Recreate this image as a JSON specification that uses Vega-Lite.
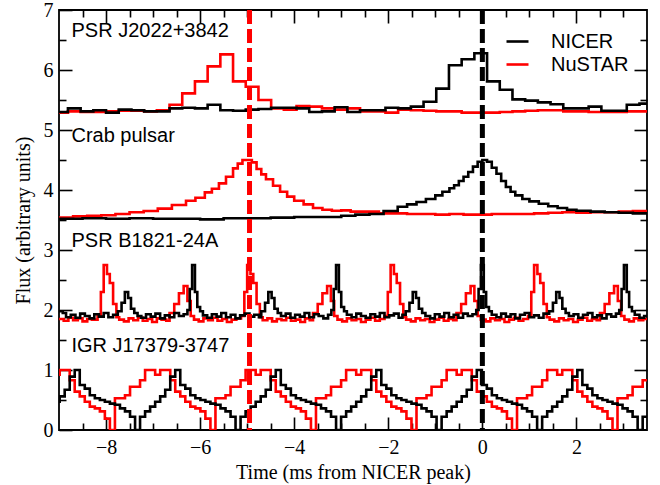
{
"$schema": "https://vega.github.io/schema/vega-lite/v6.json",
"width": 588, "height": 420,
"autosize": {"type": "none"},
"padding": {"left": 59, "top": 10, "right": 13, "bottom": 55},
"background": "white",
"config": {
  "view": {"stroke": "black", "strokeWidth": 1.8},
  "axis": {"domain": false, "grid": false, "tickColor": "black", "tickWidth": 1.6, "labelColor": "black", "labelFont": "Liberation Serif", "labelFontSize": 20, "titleFont": "Liberation Serif", "titleFontSize": 20, "titleFontWeight": "normal", "titleColor": "black", "labelFlush": false}
},
"datasets": {
"vlines": [{"x": -4.95, "c": "#ff0000"}, {"x": 0, "c": "#000000"}],
"labels": [
  {"lx": -8.735, "ly": 6.555, "t": "PSR J2022+3842"},
  {"lx": -8.735, "ly": 4.805, "t": "Crab pulsar"},
  {"lx": -8.735, "ly": 3.045, "t": "PSR B1821-24A"},
  {"lx": -8.735, "ly": 1.305, "t": "IGR J17379-3747"}
],
"curves": [
{"x":-9.08,"y":5.29,"s":"NuSTAR","g":"1r"},{"x":-8.81,"y":5.31,"s":"NuSTAR","g":"1r"},{"x":-8.54,"y":5.30,"s":"NuSTAR","g":"1r"},{"x":-8.27,"y":5.30,"s":"NuSTAR","g":"1r"},{"x":-8.00,"y":5.31,"s":"NuSTAR","g":"1r"},{"x":-7.73,"y":5.32,"s":"NuSTAR","g":"1r"},{"x":-7.46,"y":5.32,"s":"NuSTAR","g":"1r"},{"x":-7.19,"y":5.31,"s":"NuSTAR","g":"1r"},{"x":-6.92,"y":5.33,"s":"NuSTAR","g":"1r"},{"x":-6.65,"y":5.42,"s":"NuSTAR","g":"1r"},{"x":-6.38,"y":5.61,"s":"NuSTAR","g":"1r"},{"x":-6.11,"y":5.81,"s":"NuSTAR","g":"1r"},{"x":-5.84,"y":6.06,"s":"NuSTAR","g":"1r"},{"x":-5.57,"y":6.26,"s":"NuSTAR","g":"1r"},{"x":-5.30,"y":5.81,"s":"NuSTAR","g":"1r"},{"x":-5.03,"y":5.72,"s":"NuSTAR","g":"1r"},{"x":-4.76,"y":5.50,"s":"NuSTAR","g":"1r"},{"x":-4.49,"y":5.36,"s":"NuSTAR","g":"1r"},{"x":-4.22,"y":5.34,"s":"NuSTAR","g":"1r"},{"x":-3.95,"y":5.40,"s":"NuSTAR","g":"1r"},{"x":-3.68,"y":5.39,"s":"NuSTAR","g":"1r"},{"x":-3.41,"y":5.36,"s":"NuSTAR","g":"1r"},{"x":-3.14,"y":5.34,"s":"NuSTAR","g":"1r"},{"x":-2.87,"y":5.36,"s":"NuSTAR","g":"1r"},{"x":-2.60,"y":5.31,"s":"NuSTAR","g":"1r"},{"x":-2.33,"y":5.31,"s":"NuSTAR","g":"1r"},{"x":-2.06,"y":5.29,"s":"NuSTAR","g":"1r"},{"x":-1.79,"y":5.34,"s":"NuSTAR","g":"1r"},{"x":-1.52,"y":5.33,"s":"NuSTAR","g":"1r"},{"x":-1.25,"y":5.32,"s":"NuSTAR","g":"1r"},{"x":-0.98,"y":5.31,"s":"NuSTAR","g":"1r"},{"x":-0.71,"y":5.31,"s":"NuSTAR","g":"1r"},{"x":-0.44,"y":5.29,"s":"NuSTAR","g":"1r"},{"x":-0.17,"y":5.29,"s":"NuSTAR","g":"1r"},{"x":0.10,"y":5.29,"s":"NuSTAR","g":"1r"},{"x":0.37,"y":5.30,"s":"NuSTAR","g":"1r"},{"x":0.64,"y":5.31,"s":"NuSTAR","g":"1r"},{"x":0.91,"y":5.32,"s":"NuSTAR","g":"1r"},{"x":1.18,"y":5.33,"s":"NuSTAR","g":"1r"},{"x":1.45,"y":5.33,"s":"NuSTAR","g":"1r"},{"x":1.72,"y":5.31,"s":"NuSTAR","g":"1r"},{"x":1.99,"y":5.31,"s":"NuSTAR","g":"1r"},{"x":2.26,"y":5.30,"s":"NuSTAR","g":"1r"},{"x":2.53,"y":5.30,"s":"NuSTAR","g":"1r"},{"x":2.80,"y":5.30,"s":"NuSTAR","g":"1r"},{"x":3.07,"y":5.31,"s":"NuSTAR","g":"1r"},{"x":3.34,"y":5.31,"s":"NuSTAR","g":"1r"},{"x":3.61,"y":5.31,"s":"NuSTAR","g":"1r"},
{"x":-9.0,"y":3.54,"s":"NuSTAR","g":"2r"},{"x":-8.7,"y":3.56,"s":"NuSTAR","g":"2r"},{"x":-8.4,"y":3.57,"s":"NuSTAR","g":"2r"},{"x":-8.1,"y":3.58,"s":"NuSTAR","g":"2r"},{"x":-7.8,"y":3.60,"s":"NuSTAR","g":"2r"},{"x":-7.5,"y":3.63,"s":"NuSTAR","g":"2r"},{"x":-7.2,"y":3.65,"s":"NuSTAR","g":"2r"},{"x":-6.9,"y":3.69,"s":"NuSTAR","g":"2r"},{"x":-6.6,"y":3.75,"s":"NuSTAR","g":"2r"},{"x":-6.3,"y":3.82,"s":"NuSTAR","g":"2r"},{"x":-6.1,"y":3.87,"s":"NuSTAR","g":"2r"},{"x":-5.9,"y":3.96,"s":"NuSTAR","g":"2r"},{"x":-5.75,"y":4.02,"s":"NuSTAR","g":"2r"},{"x":-5.6,"y":4.11,"s":"NuSTAR","g":"2r"},{"x":-5.45,"y":4.22,"s":"NuSTAR","g":"2r"},{"x":-5.3,"y":4.36,"s":"NuSTAR","g":"2r"},{"x":-5.2,"y":4.44,"s":"NuSTAR","g":"2r"},{"x":-5.1,"y":4.50,"s":"NuSTAR","g":"2r"},{"x":-5.0,"y":4.50,"s":"NuSTAR","g":"2r"},{"x":-4.9,"y":4.46,"s":"NuSTAR","g":"2r"},{"x":-4.8,"y":4.35,"s":"NuSTAR","g":"2r"},{"x":-4.7,"y":4.26,"s":"NuSTAR","g":"2r"},{"x":-4.6,"y":4.18,"s":"NuSTAR","g":"2r"},{"x":-4.45,"y":4.07,"s":"NuSTAR","g":"2r"},{"x":-4.3,"y":3.97,"s":"NuSTAR","g":"2r"},{"x":-4.15,"y":3.89,"s":"NuSTAR","g":"2r"},{"x":-4.0,"y":3.82,"s":"NuSTAR","g":"2r"},{"x":-3.8,"y":3.76,"s":"NuSTAR","g":"2r"},{"x":-3.6,"y":3.70,"s":"NuSTAR","g":"2r"},{"x":-3.4,"y":3.67,"s":"NuSTAR","g":"2r"},{"x":-3.2,"y":3.655,"s":"NuSTAR","g":"2r"},{"x":-3.0,"y":3.66,"s":"NuSTAR","g":"2r"},{"x":-2.8,"y":3.64,"s":"NuSTAR","g":"2r"},{"x":-2.5,"y":3.64,"s":"NuSTAR","g":"2r"},{"x":-2.2,"y":3.61,"s":"NuSTAR","g":"2r"},{"x":-1.9,"y":3.61,"s":"NuSTAR","g":"2r"},{"x":-1.6,"y":3.60,"s":"NuSTAR","g":"2r"},{"x":-1.3,"y":3.60,"s":"NuSTAR","g":"2r"},{"x":-1.0,"y":3.59,"s":"NuSTAR","g":"2r"},{"x":-0.7,"y":3.60,"s":"NuSTAR","g":"2r"},{"x":-0.4,"y":3.59,"s":"NuSTAR","g":"2r"},{"x":-0.1,"y":3.59,"s":"NuSTAR","g":"2r"},{"x":0.2,"y":3.60,"s":"NuSTAR","g":"2r"},{"x":0.5,"y":3.60,"s":"NuSTAR","g":"2r"},{"x":0.8,"y":3.60,"s":"NuSTAR","g":"2r"},{"x":1.1,"y":3.61,"s":"NuSTAR","g":"2r"},{"x":1.4,"y":3.62,"s":"NuSTAR","g":"2r"},{"x":1.7,"y":3.63,"s":"NuSTAR","g":"2r"},{"x":2.0,"y":3.62,"s":"NuSTAR","g":"2r"},{"x":2.3,"y":3.63,"s":"NuSTAR","g":"2r"},{"x":2.6,"y":3.63,"s":"NuSTAR","g":"2r"},{"x":2.9,"y":3.64,"s":"NuSTAR","g":"2r"},{"x":3.2,"y":3.65,"s":"NuSTAR","g":"2r"},{"x":3.5,"y":3.66,"s":"NuSTAR","g":"2r"},
{"x":-9.00,"y":1.85,"s":"NuSTAR","g":"3r"},{"x":-8.90,"y":1.82,"s":"NuSTAR","g":"3r"},{"x":-8.80,"y":1.87,"s":"NuSTAR","g":"3r"},{"x":-8.70,"y":1.83,"s":"NuSTAR","g":"3r"},{"x":-8.60,"y":1.86,"s":"NuSTAR","g":"3r"},{"x":-8.50,"y":1.81,"s":"NuSTAR","g":"3r"},{"x":-8.40,"y":1.85,"s":"NuSTAR","g":"3r"},{"x":-8.30,"y":1.84,"s":"NuSTAR","g":"3r"},{"x":-8.18,"y":1.90,"s":"NuSTAR","g":"3r"},{"x":-8.11,"y":2.30,"s":"NuSTAR","g":"3r"},{"x":-8.05,"y":2.75,"s":"NuSTAR","g":"3r"},{"x":-7.98,"y":2.60,"s":"NuSTAR","g":"3r"},{"x":-7.92,"y":2.45,"s":"NuSTAR","g":"3r"},{"x":-7.85,"y":2.10,"s":"NuSTAR","g":"3r"},{"x":-7.78,"y":1.88,"s":"NuSTAR","g":"3r"},{"x":-7.72,"y":1.84,"s":"NuSTAR","g":"3r"},{"x":-7.62,"y":1.81,"s":"NuSTAR","g":"3r"},{"x":-7.52,"y":1.86,"s":"NuSTAR","g":"3r"},{"x":-7.42,"y":1.83,"s":"NuSTAR","g":"3r"},{"x":-7.32,"y":1.87,"s":"NuSTAR","g":"3r"},{"x":-7.22,"y":1.82,"s":"NuSTAR","g":"3r"},{"x":-7.12,"y":1.85,"s":"NuSTAR","g":"3r"},{"x":-7.02,"y":1.80,"s":"NuSTAR","g":"3r"},{"x":-6.92,"y":1.86,"s":"NuSTAR","g":"3r"},{"x":-6.82,"y":1.84,"s":"NuSTAR","g":"3r"},{"x":-6.72,"y":1.82,"s":"NuSTAR","g":"3r"},{"x":-6.65,"y":1.95,"s":"NuSTAR","g":"3r"},{"x":-6.55,"y":2.10,"s":"NuSTAR","g":"3r"},{"x":-6.45,"y":2.28,"s":"NuSTAR","g":"3r"},{"x":-6.35,"y":2.40,"s":"NuSTAR","g":"3r"},{"x":-6.27,"y":2.15,"s":"NuSTAR","g":"3r"},{"x":-6.20,"y":1.90,"s":"NuSTAR","g":"3r"},{"x":-6.13,"y":1.84,"s":"NuSTAR","g":"3r"},{"x":-6.03,"y":1.81,"s":"NuSTAR","g":"3r"},{"x":-5.93,"y":1.86,"s":"NuSTAR","g":"3r"},{"x":-5.83,"y":1.83,"s":"NuSTAR","g":"3r"},{"x":-5.73,"y":1.87,"s":"NuSTAR","g":"3r"},{"x":-5.63,"y":1.82,"s":"NuSTAR","g":"3r"},{"x":-5.53,"y":1.85,"s":"NuSTAR","g":"3r"},{"x":-5.43,"y":1.80,"s":"NuSTAR","g":"3r"},{"x":-5.33,"y":1.84,"s":"NuSTAR","g":"3r"},{"x":-5.23,"y":1.86,"s":"NuSTAR","g":"3r"},{"x":-5.13,"y":1.90,"s":"NuSTAR","g":"3r"},{"x":-5.06,"y":2.30,"s":"NuSTAR","g":"3r"},{"x":-5.00,"y":2.75,"s":"NuSTAR","g":"3r"},{"x":-4.93,"y":2.60,"s":"NuSTAR","g":"3r"},{"x":-4.87,"y":2.45,"s":"NuSTAR","g":"3r"},{"x":-4.80,"y":2.10,"s":"NuSTAR","g":"3r"},{"x":-4.73,"y":1.88,"s":"NuSTAR","g":"3r"},{"x":-4.67,"y":1.83,"s":"NuSTAR","g":"3r"},{"x":-4.57,"y":1.86,"s":"NuSTAR","g":"3r"},{"x":-4.47,"y":1.81,"s":"NuSTAR","g":"3r"},{"x":-4.37,"y":1.85,"s":"NuSTAR","g":"3r"},{"x":-4.27,"y":1.83,"s":"NuSTAR","g":"3r"},{"x":-4.17,"y":1.87,"s":"NuSTAR","g":"3r"},{"x":-4.07,"y":1.82,"s":"NuSTAR","g":"3r"},{"x":-3.97,"y":1.84,"s":"NuSTAR","g":"3r"},{"x":-3.87,"y":1.80,"s":"NuSTAR","g":"3r"},{"x":-3.77,"y":1.86,"s":"NuSTAR","g":"3r"},{"x":-3.67,"y":1.83,"s":"NuSTAR","g":"3r"},{"x":-3.60,"y":1.95,"s":"NuSTAR","g":"3r"},{"x":-3.50,"y":2.10,"s":"NuSTAR","g":"3r"},{"x":-3.40,"y":2.28,"s":"NuSTAR","g":"3r"},{"x":-3.30,"y":2.40,"s":"NuSTAR","g":"3r"},{"x":-3.22,"y":2.15,"s":"NuSTAR","g":"3r"},{"x":-3.15,"y":1.90,"s":"NuSTAR","g":"3r"},{"x":-3.08,"y":1.84,"s":"NuSTAR","g":"3r"},{"x":-2.98,"y":1.81,"s":"NuSTAR","g":"3r"},{"x":-2.88,"y":1.86,"s":"NuSTAR","g":"3r"},{"x":-2.78,"y":1.83,"s":"NuSTAR","g":"3r"},{"x":-2.68,"y":1.85,"s":"NuSTAR","g":"3r"},{"x":-2.58,"y":1.80,"s":"NuSTAR","g":"3r"},{"x":-2.48,"y":1.84,"s":"NuSTAR","g":"3r"},{"x":-2.38,"y":1.87,"s":"NuSTAR","g":"3r"},{"x":-2.28,"y":1.82,"s":"NuSTAR","g":"3r"},{"x":-2.18,"y":1.85,"s":"NuSTAR","g":"3r"},{"x":-2.08,"y":1.90,"s":"NuSTAR","g":"3r"},{"x":-2.01,"y":2.30,"s":"NuSTAR","g":"3r"},{"x":-1.95,"y":2.75,"s":"NuSTAR","g":"3r"},{"x":-1.88,"y":2.60,"s":"NuSTAR","g":"3r"},{"x":-1.82,"y":2.45,"s":"NuSTAR","g":"3r"},{"x":-1.75,"y":2.10,"s":"NuSTAR","g":"3r"},{"x":-1.68,"y":1.88,"s":"NuSTAR","g":"3r"},{"x":-1.62,"y":1.84,"s":"NuSTAR","g":"3r"},{"x":-1.52,"y":1.81,"s":"NuSTAR","g":"3r"},{"x":-1.42,"y":1.86,"s":"NuSTAR","g":"3r"},{"x":-1.32,"y":1.83,"s":"NuSTAR","g":"3r"},{"x":-1.22,"y":1.85,"s":"NuSTAR","g":"3r"},{"x":-1.12,"y":1.80,"s":"NuSTAR","g":"3r"},{"x":-1.02,"y":1.84,"s":"NuSTAR","g":"3r"},{"x":-0.92,"y":1.87,"s":"NuSTAR","g":"3r"},{"x":-0.82,"y":1.82,"s":"NuSTAR","g":"3r"},{"x":-0.72,"y":1.85,"s":"NuSTAR","g":"3r"},{"x":-0.62,"y":1.83,"s":"NuSTAR","g":"3r"},{"x":-0.55,"y":1.95,"s":"NuSTAR","g":"3r"},{"x":-0.45,"y":2.10,"s":"NuSTAR","g":"3r"},{"x":-0.35,"y":2.28,"s":"NuSTAR","g":"3r"},{"x":-0.25,"y":2.40,"s":"NuSTAR","g":"3r"},{"x":-0.17,"y":2.15,"s":"NuSTAR","g":"3r"},{"x":-0.10,"y":1.90,"s":"NuSTAR","g":"3r"},{"x":-0.03,"y":1.84,"s":"NuSTAR","g":"3r"},{"x":0.07,"y":1.81,"s":"NuSTAR","g":"3r"},{"x":0.17,"y":1.86,"s":"NuSTAR","g":"3r"},{"x":0.27,"y":1.83,"s":"NuSTAR","g":"3r"},{"x":0.37,"y":1.85,"s":"NuSTAR","g":"3r"},{"x":0.47,"y":1.80,"s":"NuSTAR","g":"3r"},{"x":0.57,"y":1.84,"s":"NuSTAR","g":"3r"},{"x":0.67,"y":1.87,"s":"NuSTAR","g":"3r"},{"x":0.77,"y":1.82,"s":"NuSTAR","g":"3r"},{"x":0.87,"y":1.85,"s":"NuSTAR","g":"3r"},{"x":0.97,"y":1.90,"s":"NuSTAR","g":"3r"},{"x":1.04,"y":2.30,"s":"NuSTAR","g":"3r"},{"x":1.10,"y":2.75,"s":"NuSTAR","g":"3r"},{"x":1.17,"y":2.60,"s":"NuSTAR","g":"3r"},{"x":1.23,"y":2.45,"s":"NuSTAR","g":"3r"},{"x":1.30,"y":2.10,"s":"NuSTAR","g":"3r"},{"x":1.37,"y":1.88,"s":"NuSTAR","g":"3r"},{"x":1.43,"y":1.84,"s":"NuSTAR","g":"3r"},{"x":1.53,"y":1.81,"s":"NuSTAR","g":"3r"},{"x":1.63,"y":1.86,"s":"NuSTAR","g":"3r"},{"x":1.73,"y":1.83,"s":"NuSTAR","g":"3r"},{"x":1.83,"y":1.85,"s":"NuSTAR","g":"3r"},{"x":1.93,"y":1.80,"s":"NuSTAR","g":"3r"},{"x":2.03,"y":1.84,"s":"NuSTAR","g":"3r"},{"x":2.13,"y":1.87,"s":"NuSTAR","g":"3r"},{"x":2.23,"y":1.82,"s":"NuSTAR","g":"3r"},{"x":2.33,"y":1.85,"s":"NuSTAR","g":"3r"},{"x":2.43,"y":1.83,"s":"NuSTAR","g":"3r"},{"x":2.50,"y":1.95,"s":"NuSTAR","g":"3r"},{"x":2.60,"y":2.10,"s":"NuSTAR","g":"3r"},{"x":2.70,"y":2.28,"s":"NuSTAR","g":"3r"},{"x":2.80,"y":2.40,"s":"NuSTAR","g":"3r"},{"x":2.88,"y":2.15,"s":"NuSTAR","g":"3r"},{"x":2.95,"y":1.90,"s":"NuSTAR","g":"3r"},{"x":3.02,"y":1.84,"s":"NuSTAR","g":"3r"},{"x":3.12,"y":1.81,"s":"NuSTAR","g":"3r"},{"x":3.22,"y":1.86,"s":"NuSTAR","g":"3r"},{"x":3.32,"y":1.83,"s":"NuSTAR","g":"3r"},{"x":3.42,"y":1.85,"s":"NuSTAR","g":"3r"},{"x":3.50,"y":1.85,"s":"NuSTAR","g":"3r"},
{"x":-9.093,"y":0.92,"s":"NuSTAR","g":"4r"},{"x":-8.986,"y":1.0,"s":"NuSTAR","g":"4r"},{"x":-8.879,"y":1.0,"s":"NuSTAR","g":"4r"},{"x":-8.772,"y":0.83,"s":"NuSTAR","g":"4r"},{"x":-8.666,"y":0.64,"s":"NuSTAR","g":"4r"},{"x":-8.559,"y":0.56,"s":"NuSTAR","g":"4r"},{"x":-8.452,"y":0.47,"s":"NuSTAR","g":"4r"},{"x":-8.345,"y":0.39,"s":"NuSTAR","g":"4r"},{"x":-8.238,"y":0.36,"s":"NuSTAR","g":"4r"},{"x":-8.131,"y":0.31,"s":"NuSTAR","g":"4r"},{"x":-8.025,"y":0.19,"s":"NuSTAR","g":"4r"},
{"x":-7.918,"y":0,"s":"NuSTAR","g":"4r"},{"x":-7.811,"y":0.53,"s":"NuSTAR","g":"4r"},{"x":-7.704,"y":0.53,"s":"NuSTAR","g":"4r"},{"x":-7.597,"y":0.58,"s":"NuSTAR","g":"4r"},{"x":-7.490,"y":0.72,"s":"NuSTAR","g":"4r"},{"x":-7.383,"y":0.72,"s":"NuSTAR","g":"4r"},{"x":-7.277,"y":0.83,"s":"NuSTAR","g":"4r"},{"x":-7.170,"y":1.0,"s":"NuSTAR","g":"4r"},{"x":-7.063,"y":1.0,"s":"NuSTAR","g":"4r"},{"x":-6.956,"y":0.92,"s":"NuSTAR","g":"4r"},{"x":-6.849,"y":1.0,"s":"NuSTAR","g":"4r"},{"x":-6.742,"y":1.0,"s":"NuSTAR","g":"4r"},{"x":-6.635,"y":0.83,"s":"NuSTAR","g":"4r"},{"x":-6.529,"y":0.64,"s":"NuSTAR","g":"4r"},{"x":-6.422,"y":0.56,"s":"NuSTAR","g":"4r"},{"x":-6.315,"y":0.47,"s":"NuSTAR","g":"4r"},{"x":-6.208,"y":0.39,"s":"NuSTAR","g":"4r"},{"x":-6.101,"y":0.36,"s":"NuSTAR","g":"4r"},{"x":-5.994,"y":0.31,"s":"NuSTAR","g":"4r"},{"x":-5.888,"y":0.19,"s":"NuSTAR","g":"4r"},
{"x":-5.781,"y":0,"s":"NuSTAR","g":"4r"},{"x":-5.674,"y":0.53,"s":"NuSTAR","g":"4r"},{"x":-5.567,"y":0.53,"s":"NuSTAR","g":"4r"},{"x":-5.460,"y":0.58,"s":"NuSTAR","g":"4r"},{"x":-5.353,"y":0.72,"s":"NuSTAR","g":"4r"},{"x":-5.247,"y":0.72,"s":"NuSTAR","g":"4r"},{"x":-5.140,"y":0.83,"s":"NuSTAR","g":"4r"},{"x":-5.033,"y":1.0,"s":"NuSTAR","g":"4r"},{"x":-4.926,"y":1.0,"s":"NuSTAR","g":"4r"},{"x":-4.819,"y":0.92,"s":"NuSTAR","g":"4r"},{"x":-4.712,"y":1.0,"s":"NuSTAR","g":"4r"},{"x":-4.605,"y":1.0,"s":"NuSTAR","g":"4r"},{"x":-4.499,"y":0.83,"s":"NuSTAR","g":"4r"},{"x":-4.392,"y":0.64,"s":"NuSTAR","g":"4r"},{"x":-4.285,"y":0.56,"s":"NuSTAR","g":"4r"},{"x":-4.178,"y":0.47,"s":"NuSTAR","g":"4r"},{"x":-4.071,"y":0.39,"s":"NuSTAR","g":"4r"},{"x":-3.964,"y":0.36,"s":"NuSTAR","g":"4r"},{"x":-3.858,"y":0.31,"s":"NuSTAR","g":"4r"},{"x":-3.751,"y":0.19,"s":"NuSTAR","g":"4r"},
{"x":-3.644,"y":0,"s":"NuSTAR","g":"4r"},{"x":-3.537,"y":0.53,"s":"NuSTAR","g":"4r"},{"x":-3.430,"y":0.53,"s":"NuSTAR","g":"4r"},{"x":-3.323,"y":0.58,"s":"NuSTAR","g":"4r"},{"x":-3.217,"y":0.72,"s":"NuSTAR","g":"4r"},{"x":-3.110,"y":0.72,"s":"NuSTAR","g":"4r"},{"x":-3.003,"y":0.83,"s":"NuSTAR","g":"4r"},{"x":-2.896,"y":1.0,"s":"NuSTAR","g":"4r"},{"x":-2.789,"y":1.0,"s":"NuSTAR","g":"4r"},{"x":-2.682,"y":0.92,"s":"NuSTAR","g":"4r"},{"x":-2.576,"y":1.0,"s":"NuSTAR","g":"4r"},{"x":-2.469,"y":1.0,"s":"NuSTAR","g":"4r"},{"x":-2.362,"y":0.83,"s":"NuSTAR","g":"4r"},{"x":-2.255,"y":0.64,"s":"NuSTAR","g":"4r"},{"x":-2.148,"y":0.56,"s":"NuSTAR","g":"4r"},{"x":-2.041,"y":0.47,"s":"NuSTAR","g":"4r"},{"x":-1.935,"y":0.39,"s":"NuSTAR","g":"4r"},{"x":-1.828,"y":0.36,"s":"NuSTAR","g":"4r"},{"x":-1.721,"y":0.31,"s":"NuSTAR","g":"4r"},{"x":-1.614,"y":0.19,"s":"NuSTAR","g":"4r"},
{"x":-1.507,"y":0,"s":"NuSTAR","g":"4r"},{"x":-1.400,"y":0.53,"s":"NuSTAR","g":"4r"},{"x":-1.294,"y":0.53,"s":"NuSTAR","g":"4r"},{"x":-1.187,"y":0.58,"s":"NuSTAR","g":"4r"},{"x":-1.080,"y":0.72,"s":"NuSTAR","g":"4r"},{"x":-0.973,"y":0.72,"s":"NuSTAR","g":"4r"},{"x":-0.866,"y":0.83,"s":"NuSTAR","g":"4r"},{"x":-0.759,"y":1.0,"s":"NuSTAR","g":"4r"},{"x":-0.653,"y":1.0,"s":"NuSTAR","g":"4r"},{"x":-0.546,"y":0.92,"s":"NuSTAR","g":"4r"},{"x":-0.439,"y":1.0,"s":"NuSTAR","g":"4r"},{"x":-0.332,"y":1.0,"s":"NuSTAR","g":"4r"},{"x":-0.225,"y":0.83,"s":"NuSTAR","g":"4r"},{"x":-0.118,"y":0.64,"s":"NuSTAR","g":"4r"},{"x":-0.011,"y":0.56,"s":"NuSTAR","g":"4r"},{"x":0.095,"y":0.47,"s":"NuSTAR","g":"4r"},{"x":0.202,"y":0.39,"s":"NuSTAR","g":"4r"},{"x":0.309,"y":0.36,"s":"NuSTAR","g":"4r"},{"x":0.416,"y":0.31,"s":"NuSTAR","g":"4r"},{"x":0.523,"y":0.19,"s":"NuSTAR","g":"4r"},
{"x":0.630,"y":0,"s":"NuSTAR","g":"4r"},{"x":0.737,"y":0.53,"s":"NuSTAR","g":"4r"},{"x":0.843,"y":0.53,"s":"NuSTAR","g":"4r"},{"x":0.950,"y":0.58,"s":"NuSTAR","g":"4r"},{"x":1.057,"y":0.72,"s":"NuSTAR","g":"4r"},{"x":1.164,"y":0.72,"s":"NuSTAR","g":"4r"},{"x":1.271,"y":0.83,"s":"NuSTAR","g":"4r"},{"x":1.378,"y":1.0,"s":"NuSTAR","g":"4r"},{"x":1.484,"y":1.0,"s":"NuSTAR","g":"4r"},{"x":1.591,"y":0.92,"s":"NuSTAR","g":"4r"},{"x":1.698,"y":1.0,"s":"NuSTAR","g":"4r"},{"x":1.805,"y":1.0,"s":"NuSTAR","g":"4r"},{"x":1.912,"y":0.83,"s":"NuSTAR","g":"4r"},{"x":2.019,"y":0.64,"s":"NuSTAR","g":"4r"},{"x":2.126,"y":0.56,"s":"NuSTAR","g":"4r"},{"x":2.232,"y":0.47,"s":"NuSTAR","g":"4r"},{"x":2.339,"y":0.39,"s":"NuSTAR","g":"4r"},{"x":2.446,"y":0.36,"s":"NuSTAR","g":"4r"},{"x":2.553,"y":0.31,"s":"NuSTAR","g":"4r"},{"x":2.660,"y":0.19,"s":"NuSTAR","g":"4r"},
{"x":2.767,"y":0,"s":"NuSTAR","g":"4r"},{"x":2.873,"y":0.53,"s":"NuSTAR","g":"4r"},{"x":2.980,"y":0.53,"s":"NuSTAR","g":"4r"},{"x":3.087,"y":0.58,"s":"NuSTAR","g":"4r"},{"x":3.194,"y":0.72,"s":"NuSTAR","g":"4r"},{"x":3.301,"y":0.72,"s":"NuSTAR","g":"4r"},{"x":3.408,"y":0.83,"s":"NuSTAR","g":"4r"},{"x":3.515,"y":0.83,"s":"NuSTAR","g":"4r"},
{"x":-9.08,"y":5.30,"s":"NICER","g":"1b"},{"x":-8.81,"y":5.36,"s":"NICER","g":"1b"},{"x":-8.54,"y":5.31,"s":"NICER","g":"1b"},{"x":-8.27,"y":5.33,"s":"NICER","g":"1b"},{"x":-8.00,"y":5.29,"s":"NICER","g":"1b"},{"x":-7.73,"y":5.34,"s":"NICER","g":"1b"},{"x":-7.46,"y":5.33,"s":"NICER","g":"1b"},{"x":-7.19,"y":5.31,"s":"NICER","g":"1b"},{"x":-6.92,"y":5.31,"s":"NICER","g":"1b"},{"x":-6.65,"y":5.36,"s":"NICER","g":"1b"},{"x":-6.38,"y":5.37,"s":"NICER","g":"1b"},{"x":-6.11,"y":5.36,"s":"NICER","g":"1b"},{"x":-5.84,"y":5.42,"s":"NICER","g":"1b"},{"x":-5.57,"y":5.33,"s":"NICER","g":"1b"},{"x":-5.30,"y":5.32,"s":"NICER","g":"1b"},{"x":-5.03,"y":5.34,"s":"NICER","g":"1b"},{"x":-4.76,"y":5.35,"s":"NICER","g":"1b"},{"x":-4.49,"y":5.37,"s":"NICER","g":"1b"},{"x":-4.22,"y":5.37,"s":"NICER","g":"1b"},{"x":-3.95,"y":5.36,"s":"NICER","g":"1b"},{"x":-3.68,"y":5.30,"s":"NICER","g":"1b"},{"x":-3.41,"y":5.31,"s":"NICER","g":"1b"},{"x":-3.14,"y":5.38,"s":"NICER","g":"1b"},{"x":-2.87,"y":5.30,"s":"NICER","g":"1b"},{"x":-2.60,"y":5.33,"s":"NICER","g":"1b"},{"x":-2.33,"y":5.33,"s":"NICER","g":"1b"},{"x":-2.06,"y":5.37,"s":"NICER","g":"1b"},{"x":-1.79,"y":5.36,"s":"NICER","g":"1b"},{"x":-1.52,"y":5.39,"s":"NICER","g":"1b"},{"x":-1.25,"y":5.47,"s":"NICER","g":"1b"},{"x":-0.98,"y":5.69,"s":"NICER","g":"1b"},{"x":-0.71,"y":6.08,"s":"NICER","g":"1b"},{"x":-0.44,"y":6.18,"s":"NICER","g":"1b"},{"x":-0.17,"y":6.28,"s":"NICER","g":"1b"},{"x":0.10,"y":5.81,"s":"NICER","g":"1b"},{"x":0.37,"y":5.67,"s":"NICER","g":"1b"},{"x":0.64,"y":5.51,"s":"NICER","g":"1b"},{"x":0.91,"y":5.49,"s":"NICER","g":"1b"},{"x":1.18,"y":5.46,"s":"NICER","g":"1b"},{"x":1.45,"y":5.43,"s":"NICER","g":"1b"},{"x":1.72,"y":5.36,"s":"NICER","g":"1b"},{"x":1.99,"y":5.36,"s":"NICER","g":"1b"},{"x":2.26,"y":5.39,"s":"NICER","g":"1b"},{"x":2.53,"y":5.32,"s":"NICER","g":"1b"},{"x":2.80,"y":5.32,"s":"NICER","g":"1b"},{"x":3.07,"y":5.42,"s":"NICER","g":"1b"},{"x":3.34,"y":5.44,"s":"NICER","g":"1b"},{"x":3.61,"y":5.44,"s":"NICER","g":"1b"},
{"x":-9.0,"y":3.52,"s":"NICER","g":"2b"},{"x":-8.5,"y":3.53,"s":"NICER","g":"2b"},{"x":-8.0,"y":3.52,"s":"NICER","g":"2b"},{"x":-7.5,"y":3.53,"s":"NICER","g":"2b"},{"x":-7.0,"y":3.52,"s":"NICER","g":"2b"},{"x":-6.5,"y":3.52,"s":"NICER","g":"2b"},{"x":-6.0,"y":3.51,"s":"NICER","g":"2b"},{"x":-5.5,"y":3.53,"s":"NICER","g":"2b"},{"x":-5.0,"y":3.53,"s":"NICER","g":"2b"},{"x":-4.5,"y":3.54,"s":"NICER","g":"2b"},{"x":-4.0,"y":3.55,"s":"NICER","g":"2b"},{"x":-3.5,"y":3.55,"s":"NICER","g":"2b"},{"x":-3.0,"y":3.57,"s":"NICER","g":"2b"},{"x":-2.7,"y":3.59,"s":"NICER","g":"2b"},{"x":-2.4,"y":3.60,"s":"NICER","g":"2b"},{"x":-2.1,"y":3.65,"s":"NICER","g":"2b"},{"x":-1.8,"y":3.72,"s":"NICER","g":"2b"},{"x":-1.6,"y":3.76,"s":"NICER","g":"2b"},{"x":-1.4,"y":3.80,"s":"NICER","g":"2b"},{"x":-1.2,"y":3.85,"s":"NICER","g":"2b"},{"x":-1.0,"y":3.91,"s":"NICER","g":"2b"},{"x":-0.85,"y":3.97,"s":"NICER","g":"2b"},{"x":-0.7,"y":4.03,"s":"NICER","g":"2b"},{"x":-0.6,"y":4.08,"s":"NICER","g":"2b"},{"x":-0.5,"y":4.15,"s":"NICER","g":"2b"},{"x":-0.4,"y":4.22,"s":"NICER","g":"2b"},{"x":-0.3,"y":4.30,"s":"NICER","g":"2b"},{"x":-0.2,"y":4.39,"s":"NICER","g":"2b"},{"x":-0.1,"y":4.47,"s":"NICER","g":"2b"},{"x":0.0,"y":4.50,"s":"NICER","g":"2b"},{"x":0.1,"y":4.47,"s":"NICER","g":"2b"},{"x":0.2,"y":4.37,"s":"NICER","g":"2b"},{"x":0.3,"y":4.27,"s":"NICER","g":"2b"},{"x":0.4,"y":4.15,"s":"NICER","g":"2b"},{"x":0.5,"y":4.05,"s":"NICER","g":"2b"},{"x":0.6,"y":3.97,"s":"NICER","g":"2b"},{"x":0.7,"y":3.91,"s":"NICER","g":"2b"},{"x":0.85,"y":3.85,"s":"NICER","g":"2b"},{"x":1.0,"y":3.81,"s":"NICER","g":"2b"},{"x":1.2,"y":3.77,"s":"NICER","g":"2b"},{"x":1.4,"y":3.73,"s":"NICER","g":"2b"},{"x":1.6,"y":3.70,"s":"NICER","g":"2b"},{"x":1.8,"y":3.67,"s":"NICER","g":"2b"},{"x":2.0,"y":3.655,"s":"NICER","g":"2b"},{"x":2.3,"y":3.64,"s":"NICER","g":"2b"},{"x":2.6,"y":3.63,"s":"NICER","g":"2b"},{"x":2.9,"y":3.62,"s":"NICER","g":"2b"},{"x":3.2,"y":3.61,"s":"NICER","g":"2b"},{"x":3.5,"y":3.60,"s":"NICER","g":"2b"},
{"x":-9.00,"y":1.98,"s":"NICER","g":"3b"},{"x":-8.92,"y":1.95,"s":"NICER","g":"3b"},{"x":-8.85,"y":1.88,"s":"NICER","g":"3b"},{"x":-8.75,"y":1.92,"s":"NICER","g":"3b"},{"x":-8.65,"y":1.87,"s":"NICER","g":"3b"},{"x":-8.55,"y":1.94,"s":"NICER","g":"3b"},{"x":-8.45,"y":1.90,"s":"NICER","g":"3b"},{"x":-8.35,"y":1.86,"s":"NICER","g":"3b"},{"x":-8.25,"y":1.93,"s":"NICER","g":"3b"},{"x":-8.15,"y":1.89,"s":"NICER","g":"3b"},{"x":-8.05,"y":1.95,"s":"NICER","g":"3b"},{"x":-7.95,"y":1.88,"s":"NICER","g":"3b"},{"x":-7.85,"y":1.92,"s":"NICER","g":"3b"},{"x":-7.75,"y":1.98,"s":"NICER","g":"3b"},{"x":-7.67,"y":2.12,"s":"NICER","g":"3b"},{"x":-7.60,"y":2.30,"s":"NICER","g":"3b"},{"x":-7.53,"y":2.20,"s":"NICER","g":"3b"},{"x":-7.47,"y":2.02,"s":"NICER","g":"3b"},{"x":-7.40,"y":1.95,"s":"NICER","g":"3b"},{"x":-7.33,"y":1.90,"s":"NICER","g":"3b"},{"x":-7.25,"y":1.87,"s":"NICER","g":"3b"},{"x":-7.15,"y":1.93,"s":"NICER","g":"3b"},{"x":-7.05,"y":1.89,"s":"NICER","g":"3b"},{"x":-6.95,"y":1.94,"s":"NICER","g":"3b"},{"x":-6.85,"y":1.86,"s":"NICER","g":"3b"},{"x":-6.75,"y":1.91,"s":"NICER","g":"3b"},{"x":-6.65,"y":1.88,"s":"NICER","g":"3b"},{"x":-6.55,"y":1.95,"s":"NICER","g":"3b"},{"x":-6.45,"y":1.90,"s":"NICER","g":"3b"},{"x":-6.35,"y":1.93,"s":"NICER","g":"3b"},{"x":-6.27,"y":2.00,"s":"NICER","g":"3b"},{"x":-6.22,"y":2.35,"s":"NICER","g":"3b"},{"x":-6.17,"y":2.75,"s":"NICER","g":"3b"},{"x":-6.11,"y":2.30,"s":"NICER","g":"3b"},{"x":-6.06,"y":2.05,"s":"NICER","g":"3b"},{"x":-6.00,"y":1.98,"s":"NICER","g":"3b"},{"x":-5.94,"y":1.91,"s":"NICER","g":"3b"},{"x":-5.85,"y":1.87,"s":"NICER","g":"3b"},{"x":-5.75,"y":1.93,"s":"NICER","g":"3b"},{"x":-5.65,"y":1.89,"s":"NICER","g":"3b"},{"x":-5.55,"y":1.95,"s":"NICER","g":"3b"},{"x":-5.45,"y":1.88,"s":"NICER","g":"3b"},{"x":-5.35,"y":1.92,"s":"NICER","g":"3b"},{"x":-5.25,"y":1.86,"s":"NICER","g":"3b"},{"x":-5.15,"y":1.91,"s":"NICER","g":"3b"},{"x":-5.05,"y":1.94,"s":"NICER","g":"3b"},{"x":-4.95,"y":1.89,"s":"NICER","g":"3b"},{"x":-4.85,"y":1.92,"s":"NICER","g":"3b"},{"x":-4.75,"y":1.88,"s":"NICER","g":"3b"},{"x":-4.70,"y":1.98,"s":"NICER","g":"3b"},{"x":-4.62,"y":2.12,"s":"NICER","g":"3b"},{"x":-4.55,"y":2.30,"s":"NICER","g":"3b"},{"x":-4.48,"y":2.20,"s":"NICER","g":"3b"},{"x":-4.42,"y":2.02,"s":"NICER","g":"3b"},{"x":-4.35,"y":1.95,"s":"NICER","g":"3b"},{"x":-4.28,"y":1.90,"s":"NICER","g":"3b"},{"x":-4.18,"y":1.94,"s":"NICER","g":"3b"},{"x":-4.08,"y":1.87,"s":"NICER","g":"3b"},{"x":-3.98,"y":1.92,"s":"NICER","g":"3b"},{"x":-3.88,"y":1.89,"s":"NICER","g":"3b"},{"x":-3.78,"y":1.95,"s":"NICER","g":"3b"},{"x":-3.68,"y":1.88,"s":"NICER","g":"3b"},{"x":-3.58,"y":1.93,"s":"NICER","g":"3b"},{"x":-3.48,"y":1.90,"s":"NICER","g":"3b"},{"x":-3.38,"y":1.86,"s":"NICER","g":"3b"},{"x":-3.28,"y":1.92,"s":"NICER","g":"3b"},{"x":-3.21,"y":2.00,"s":"NICER","g":"3b"},{"x":-3.16,"y":2.35,"s":"NICER","g":"3b"},{"x":-3.11,"y":2.75,"s":"NICER","g":"3b"},{"x":-3.05,"y":2.30,"s":"NICER","g":"3b"},{"x":-3.00,"y":2.05,"s":"NICER","g":"3b"},{"x":-2.94,"y":1.98,"s":"NICER","g":"3b"},{"x":-2.88,"y":1.92,"s":"NICER","g":"3b"},{"x":-2.78,"y":1.88,"s":"NICER","g":"3b"},{"x":-2.68,"y":1.94,"s":"NICER","g":"3b"},{"x":-2.58,"y":1.90,"s":"NICER","g":"3b"},{"x":-2.48,"y":1.87,"s":"NICER","g":"3b"},{"x":-2.38,"y":1.93,"s":"NICER","g":"3b"},{"x":-2.28,"y":1.89,"s":"NICER","g":"3b"},{"x":-2.18,"y":1.95,"s":"NICER","g":"3b"},{"x":-2.08,"y":1.88,"s":"NICER","g":"3b"},{"x":-1.98,"y":1.91,"s":"NICER","g":"3b"},{"x":-1.88,"y":1.94,"s":"NICER","g":"3b"},{"x":-1.78,"y":1.87,"s":"NICER","g":"3b"},{"x":-1.70,"y":1.92,"s":"NICER","g":"3b"},{"x":-1.63,"y":1.98,"s":"NICER","g":"3b"},{"x":-1.55,"y":2.12,"s":"NICER","g":"3b"},{"x":-1.48,"y":2.30,"s":"NICER","g":"3b"},{"x":-1.41,"y":2.20,"s":"NICER","g":"3b"},{"x":-1.35,"y":2.02,"s":"NICER","g":"3b"},{"x":-1.28,"y":1.95,"s":"NICER","g":"3b"},{"x":-1.21,"y":1.90,"s":"NICER","g":"3b"},{"x":-1.11,"y":1.86,"s":"NICER","g":"3b"},{"x":-1.01,"y":1.93,"s":"NICER","g":"3b"},{"x":-0.91,"y":1.89,"s":"NICER","g":"3b"},{"x":-0.81,"y":1.95,"s":"NICER","g":"3b"},{"x":-0.71,"y":1.88,"s":"NICER","g":"3b"},{"x":-0.61,"y":1.92,"s":"NICER","g":"3b"},{"x":-0.51,"y":1.87,"s":"NICER","g":"3b"},{"x":-0.41,"y":1.94,"s":"NICER","g":"3b"},{"x":-0.31,"y":1.90,"s":"NICER","g":"3b"},{"x":-0.21,"y":1.93,"s":"NICER","g":"3b"},{"x":-0.13,"y":2.00,"s":"NICER","g":"3b"},{"x":-0.08,"y":2.35,"s":"NICER","g":"3b"},{"x":-0.03,"y":2.75,"s":"NICER","g":"3b"},{"x":0.03,"y":2.30,"s":"NICER","g":"3b"},{"x":0.08,"y":2.05,"s":"NICER","g":"3b"},{"x":0.14,"y":1.98,"s":"NICER","g":"3b"},{"x":0.20,"y":1.92,"s":"NICER","g":"3b"},{"x":0.30,"y":1.88,"s":"NICER","g":"3b"},{"x":0.40,"y":1.94,"s":"NICER","g":"3b"},{"x":0.50,"y":1.89,"s":"NICER","g":"3b"},{"x":0.60,"y":1.93,"s":"NICER","g":"3b"},{"x":0.70,"y":1.86,"s":"NICER","g":"3b"},{"x":0.80,"y":1.92,"s":"NICER","g":"3b"},{"x":0.90,"y":1.95,"s":"NICER","g":"3b"},{"x":1.00,"y":1.88,"s":"NICER","g":"3b"},{"x":1.10,"y":1.91,"s":"NICER","g":"3b"},{"x":1.20,"y":1.87,"s":"NICER","g":"3b"},{"x":1.30,"y":1.94,"s":"NICER","g":"3b"},{"x":1.42,"y":1.98,"s":"NICER","g":"3b"},{"x":1.50,"y":2.12,"s":"NICER","g":"3b"},{"x":1.57,"y":2.30,"s":"NICER","g":"3b"},{"x":1.64,"y":2.20,"s":"NICER","g":"3b"},{"x":1.70,"y":2.02,"s":"NICER","g":"3b"},{"x":1.77,"y":1.95,"s":"NICER","g":"3b"},{"x":1.84,"y":1.90,"s":"NICER","g":"3b"},{"x":1.94,"y":1.93,"s":"NICER","g":"3b"},{"x":2.04,"y":1.87,"s":"NICER","g":"3b"},{"x":2.14,"y":1.92,"s":"NICER","g":"3b"},{"x":2.24,"y":1.95,"s":"NICER","g":"3b"},{"x":2.34,"y":1.88,"s":"NICER","g":"3b"},{"x":2.44,"y":1.91,"s":"NICER","g":"3b"},{"x":2.54,"y":1.86,"s":"NICER","g":"3b"},{"x":2.64,"y":1.93,"s":"NICER","g":"3b"},{"x":2.74,"y":1.89,"s":"NICER","g":"3b"},{"x":2.84,"y":1.94,"s":"NICER","g":"3b"},{"x":2.91,"y":2.00,"s":"NICER","g":"3b"},{"x":2.96,"y":2.35,"s":"NICER","g":"3b"},{"x":3.01,"y":2.75,"s":"NICER","g":"3b"},{"x":3.07,"y":2.30,"s":"NICER","g":"3b"},{"x":3.12,"y":2.05,"s":"NICER","g":"3b"},{"x":3.18,"y":1.98,"s":"NICER","g":"3b"},{"x":3.24,"y":1.92,"s":"NICER","g":"3b"},{"x":3.34,"y":1.87,"s":"NICER","g":"3b"},{"x":3.44,"y":1.90,"s":"NICER","g":"3b"},{"x":3.50,"y":1.90,"s":"NICER","g":"3b"},
{"x":-9.093,"y":0.47,"s":"NICER","g":"4b"},{"x":-8.986,"y":0.56,"s":"NICER","g":"4b"},{"x":-8.879,"y":0.67,"s":"NICER","g":"4b"},{"x":-8.772,"y":0.89,"s":"NICER","g":"4b"},{"x":-8.666,"y":1.0,"s":"NICER","g":"4b"},{"x":-8.559,"y":0.75,"s":"NICER","g":"4b"},{"x":-8.452,"y":0.69,"s":"NICER","g":"4b"},{"x":-8.345,"y":0.58,"s":"NICER","g":"4b"},{"x":-8.238,"y":0.53,"s":"NICER","g":"4b"},{"x":-8.131,"y":0.50,"s":"NICER","g":"4b"},{"x":-8.025,"y":0.47,"s":"NICER","g":"4b"},{"x":-7.918,"y":0.44,"s":"NICER","g":"4b"},{"x":-7.811,"y":0.42,"s":"NICER","g":"4b"},{"x":-7.704,"y":0.36,"s":"NICER","g":"4b"},{"x":-7.597,"y":0.31,"s":"NICER","g":"4b"},{"x":-7.490,"y":0.22,"s":"NICER","g":"4b"},
{"x":-7.383,"y":0,"s":"NICER","g":"4b"},{"x":-7.277,"y":0.22,"s":"NICER","g":"4b"},{"x":-7.170,"y":0.31,"s":"NICER","g":"4b"},{"x":-7.063,"y":0.39,"s":"NICER","g":"4b"},{"x":-6.956,"y":0.47,"s":"NICER","g":"4b"},{"x":-6.849,"y":0.56,"s":"NICER","g":"4b"},{"x":-6.742,"y":0.67,"s":"NICER","g":"4b"},{"x":-6.635,"y":0.89,"s":"NICER","g":"4b"},{"x":-6.529,"y":1.0,"s":"NICER","g":"4b"},{"x":-6.422,"y":0.75,"s":"NICER","g":"4b"},{"x":-6.315,"y":0.69,"s":"NICER","g":"4b"},{"x":-6.208,"y":0.58,"s":"NICER","g":"4b"},{"x":-6.101,"y":0.53,"s":"NICER","g":"4b"},{"x":-5.994,"y":0.50,"s":"NICER","g":"4b"},{"x":-5.888,"y":0.47,"s":"NICER","g":"4b"},{"x":-5.781,"y":0.44,"s":"NICER","g":"4b"},{"x":-5.674,"y":0.42,"s":"NICER","g":"4b"},{"x":-5.567,"y":0.36,"s":"NICER","g":"4b"},{"x":-5.460,"y":0.31,"s":"NICER","g":"4b"},{"x":-5.353,"y":0.22,"s":"NICER","g":"4b"},
{"x":-5.247,"y":0,"s":"NICER","g":"4b"},{"x":-5.140,"y":0.22,"s":"NICER","g":"4b"},{"x":-5.033,"y":0.31,"s":"NICER","g":"4b"},{"x":-4.926,"y":0.39,"s":"NICER","g":"4b"},{"x":-4.819,"y":0.47,"s":"NICER","g":"4b"},{"x":-4.712,"y":0.56,"s":"NICER","g":"4b"},{"x":-4.605,"y":0.67,"s":"NICER","g":"4b"},{"x":-4.499,"y":0.89,"s":"NICER","g":"4b"},{"x":-4.392,"y":1.0,"s":"NICER","g":"4b"},{"x":-4.285,"y":0.75,"s":"NICER","g":"4b"},{"x":-4.178,"y":0.69,"s":"NICER","g":"4b"},{"x":-4.071,"y":0.58,"s":"NICER","g":"4b"},{"x":-3.964,"y":0.53,"s":"NICER","g":"4b"},{"x":-3.858,"y":0.50,"s":"NICER","g":"4b"},{"x":-3.751,"y":0.47,"s":"NICER","g":"4b"},{"x":-3.644,"y":0.44,"s":"NICER","g":"4b"},{"x":-3.537,"y":0.42,"s":"NICER","g":"4b"},{"x":-3.430,"y":0.36,"s":"NICER","g":"4b"},{"x":-3.323,"y":0.31,"s":"NICER","g":"4b"},{"x":-3.217,"y":0.22,"s":"NICER","g":"4b"},
{"x":-3.110,"y":0,"s":"NICER","g":"4b"},{"x":-3.003,"y":0.22,"s":"NICER","g":"4b"},{"x":-2.896,"y":0.31,"s":"NICER","g":"4b"},{"x":-2.789,"y":0.39,"s":"NICER","g":"4b"},{"x":-2.682,"y":0.47,"s":"NICER","g":"4b"},{"x":-2.576,"y":0.56,"s":"NICER","g":"4b"},{"x":-2.469,"y":0.67,"s":"NICER","g":"4b"},{"x":-2.362,"y":0.89,"s":"NICER","g":"4b"},{"x":-2.255,"y":1.0,"s":"NICER","g":"4b"},{"x":-2.148,"y":0.75,"s":"NICER","g":"4b"},{"x":-2.041,"y":0.69,"s":"NICER","g":"4b"},{"x":-1.935,"y":0.58,"s":"NICER","g":"4b"},{"x":-1.828,"y":0.53,"s":"NICER","g":"4b"},{"x":-1.721,"y":0.50,"s":"NICER","g":"4b"},{"x":-1.614,"y":0.47,"s":"NICER","g":"4b"},{"x":-1.507,"y":0.44,"s":"NICER","g":"4b"},{"x":-1.400,"y":0.42,"s":"NICER","g":"4b"},{"x":-1.294,"y":0.36,"s":"NICER","g":"4b"},{"x":-1.187,"y":0.31,"s":"NICER","g":"4b"},{"x":-1.080,"y":0.22,"s":"NICER","g":"4b"},
{"x":-0.973,"y":0,"s":"NICER","g":"4b"},{"x":-0.866,"y":0.22,"s":"NICER","g":"4b"},{"x":-0.759,"y":0.31,"s":"NICER","g":"4b"},{"x":-0.653,"y":0.39,"s":"NICER","g":"4b"},{"x":-0.546,"y":0.47,"s":"NICER","g":"4b"},{"x":-0.439,"y":0.56,"s":"NICER","g":"4b"},{"x":-0.332,"y":0.67,"s":"NICER","g":"4b"},{"x":-0.225,"y":0.89,"s":"NICER","g":"4b"},{"x":-0.118,"y":1.0,"s":"NICER","g":"4b"},{"x":-0.011,"y":0.75,"s":"NICER","g":"4b"},{"x":0.095,"y":0.69,"s":"NICER","g":"4b"},{"x":0.202,"y":0.58,"s":"NICER","g":"4b"},{"x":0.309,"y":0.53,"s":"NICER","g":"4b"},{"x":0.416,"y":0.50,"s":"NICER","g":"4b"},{"x":0.523,"y":0.47,"s":"NICER","g":"4b"},{"x":0.630,"y":0.44,"s":"NICER","g":"4b"},{"x":0.737,"y":0.42,"s":"NICER","g":"4b"},{"x":0.843,"y":0.36,"s":"NICER","g":"4b"},{"x":0.950,"y":0.31,"s":"NICER","g":"4b"},{"x":1.057,"y":0.22,"s":"NICER","g":"4b"},
{"x":1.164,"y":0,"s":"NICER","g":"4b"},{"x":1.271,"y":0.22,"s":"NICER","g":"4b"},{"x":1.378,"y":0.31,"s":"NICER","g":"4b"},{"x":1.484,"y":0.39,"s":"NICER","g":"4b"},{"x":1.591,"y":0.47,"s":"NICER","g":"4b"},{"x":1.698,"y":0.56,"s":"NICER","g":"4b"},{"x":1.805,"y":0.67,"s":"NICER","g":"4b"},{"x":1.912,"y":0.89,"s":"NICER","g":"4b"},{"x":2.019,"y":1.0,"s":"NICER","g":"4b"},{"x":2.126,"y":0.75,"s":"NICER","g":"4b"},{"x":2.232,"y":0.69,"s":"NICER","g":"4b"},{"x":2.339,"y":0.58,"s":"NICER","g":"4b"},{"x":2.446,"y":0.53,"s":"NICER","g":"4b"},{"x":2.553,"y":0.50,"s":"NICER","g":"4b"},{"x":2.660,"y":0.47,"s":"NICER","g":"4b"},{"x":2.767,"y":0.44,"s":"NICER","g":"4b"},{"x":2.873,"y":0.42,"s":"NICER","g":"4b"},{"x":2.980,"y":0.36,"s":"NICER","g":"4b"},{"x":3.087,"y":0.31,"s":"NICER","g":"4b"},{"x":3.194,"y":0.22,"s":"NICER","g":"4b"},
{"x":3.301,"y":0,"s":"NICER","g":"4b"},{"x":3.408,"y":0.22,"s":"NICER","g":"4b"},{"x":3.515,"y":0.22,"s":"NICER","g":"4b"}
]
},
"layer": [
{
  "data": {"name": "curves"},
  "mark": {"type": "line", "interpolate": "step-after", "strokeWidth": 2.6, "clip": true},
  "encoding": {
    "x": {"field": "x", "type": "quantitative", "scale": {"domain": [-9, 3.5], "nice": false, "zero": false},
          "axis": {"orient": "bottom", "values": [-8, -6, -4, -2, 0, 2], "tickSize": -13, "labelPadding": 36, "labelBaseline": "alphabetic", "title": "Time (ms from NICER peak)", "titleX": 294, "titleY": 48, "titleBaseline": "alphabetic", "titleAlign": "center"}},
    "y": {"field": "y", "type": "quantitative", "scale": {"domain": [0, 7], "nice": false, "zero": false},
          "axis": {"orient": "left", "values": [0, 1, 2, 3, 4, 5, 6, 7], "tickSize": -13, "labelPadding": 19, "title": "Flux (arbitrary units)", "titleX": -30, "titleY": 210, "titleBaseline": "alphabetic", "titleAlign": "center"}},
    "color": {"field": "s", "type": "nominal", "scale": {"domain": ["NICER", "NuSTAR"], "range": ["#000000", "#ff0000"]},
              "legend": {"title": null, "orient": "none", "legendX": 446, "legendY": 19, "symbolType": "stroke", "symbolSize": 484, "symbolStrokeWidth": 2.6, "labelFont": "Liberation Sans", "labelFontSize": 20, "labelColor": "black", "labelOffset": 21, "rowPadding": -4, "padding": 0}},
    "detail": {"field": "g"}
  }
},
{
  "data": {"name": "vlines"},
  "mark": {"type": "rule", "strokeWidth": 5, "strokeDash": [14, 5]},
  "encoding": {
    "x": {"field": "x", "type": "quantitative", "scale": {"domain": [-9, 3.5], "nice": false, "zero": false}, "axis": null},
    "stroke": {"field": "c", "type": "nominal", "scale": null}
  }
},
{
  "data": {"name": "labels"},
  "mark": {"type": "text", "align": "left", "baseline": "alphabetic", "font": "Liberation Sans", "fontSize": 20, "color": "black"},
  "encoding": {
    "x": {"field": "lx", "type": "quantitative", "scale": {"domain": [-9, 3.5], "nice": false, "zero": false},
          "axis": {"orient": "bottom", "values": [-8.5, -7.5, -7, -6.5, -5.5, -5, -4.5, -3.5, -3, -2.5, -1.5, -1, -0.5, 0.5, 1, 1.5, 2.5, 3], "tickSize": -7, "labels": false, "title": null}},
    "y": {"field": "ly", "type": "quantitative", "scale": {"domain": [0, 7], "nice": false, "zero": false},
          "axis": {"orient": "left", "values": [0.5, 1.5, 2.5, 3.5, 4.5, 5.5, 6.5], "tickSize": -7, "labels": false, "title": null}},
    "text": {"field": "t"}
  }
},
{
  "data": {"name": "labels"},
  "mark": {"type": "point", "opacity": 0},
  "encoding": {
    "x": {"field": "lx", "type": "quantitative", "scale": {"domain": [-9, 3.5], "nice": false, "zero": false},
          "axis": {"orient": "top", "values": [-8, -6, -4, -2, 0, 2], "tickSize": -13, "labels": false, "title": null}},
    "y": {"field": "ly", "type": "quantitative", "scale": {"domain": [0, 7], "nice": false, "zero": false},
          "axis": {"orient": "right", "values": [1, 2, 3, 4, 5, 6], "tickSize": -13, "labels": false, "title": null}}
  }
},
{
  "data": {"name": "labels"},
  "mark": {"type": "point", "opacity": 0},
  "encoding": {
    "x": {"field": "lx", "type": "quantitative", "scale": {"domain": [-9, 3.5], "nice": false, "zero": false},
          "axis": {"orient": "top", "values": [-8.5, -7.5, -7, -6.5, -5.5, -5, -4.5, -3.5, -3, -2.5, -1.5, -1, -0.5, 0.5, 1, 1.5, 2.5, 3], "tickSize": -7, "labels": false, "title": null}},
    "y": {"field": "ly", "type": "quantitative", "scale": {"domain": [0, 7], "nice": false, "zero": false},
          "axis": {"orient": "right", "values": [0.5, 1.5, 2.5, 3.5, 4.5, 5.5, 6.5], "tickSize": -7, "labels": false, "title": null}}
  }
}
],
"resolve": {"axis": {"x": "independent", "y": "independent"}}
}
